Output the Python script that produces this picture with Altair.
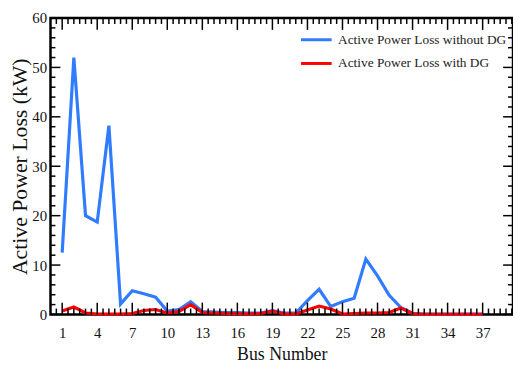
import altair as alt
import pandas as pd

# ---------------- data ----------------
bus_number = list(range(1, 38))
loss_without_dg = [12.5, 52.0, 20.0, 18.7, 38.2, 2.1, 4.8, 4.2, 3.5, 0.7,
                   1.0, 2.6, 0.6, 0.5, 0.4, 0.4, 0.3, 0.3, 0.8, 0.3,
                   0.3, 2.8, 5.1, 1.6, 2.6, 3.3, 11.2, 7.8, 3.9, 1.4,
                   0.2, 0.1, 0.1, 0.1, 0.1, 0.1, 0.1]
loss_with_dg = [0.7, 1.5, 0.3, 0.1, 0.1, 0.1, 0.2, 0.8, 1.0, 0.3,
                0.6, 2.0, 0.4, 0.3, 0.2, 0.2, 0.1, 0.2, 0.7, 0.1,
                0.1, 0.9, 1.7, 1.1, 0.1, 0.2, 0.3, 0.3, 0.4, 1.3,
                0.2, 0.05, 0.05, 0.05, 0.05, 0.05, 0.05]
series_names = ["Active Power Loss without DG", "Active Power Loss with DG"]
series_colors = ["#2f7cff", "#ff0000"]

x_major_ticks = list(range(1, 38, 3))
x_minor_ticks = [v / 2 for v in range(1, 80) if (v / 2) not in x_major_ticks]
y_major_ticks = list(range(0, 61, 10))
y_minor_ticks = [v for v in range(2, 60, 2) if v % 10 != 0]

# ---------------- layout ----------------
W, H = 468, 300
SERIF = "Liberation Serif"

rows = []
for name, vals in zip(series_names, [loss_without_dg, loss_with_dg]):
    for b, v in zip(bus_number, vals):
        rows.append({"bus": b, "loss": v, "series": name})
df = pd.DataFrame(rows)

x_scale = alt.Scale(domain=[0, 39.6], nice=False, zero=False)
y_scale = alt.Scale(domain=[0, 60], nice=False, zero=False)

x_axis = alt.Axis(values=x_major_ticks, title="Bus Number", ticks=False,
                  domain=False, grid=False, labelFont=SERIF,
                  labelFontSize=15, labelColor="#111", labelPadding=11,
                  titleFont=SERIF, titleFontSize=18, titleFontWeight="normal",
                  titleColor="#111", titlePadding=6, labelFlush=False)
y_axis = alt.Axis(values=y_major_ticks, title="Active Power Loss (kW)",
                  ticks=False, domain=False, grid=False, labelFont=SERIF,
                  labelFontSize=15, labelColor="#111", labelPadding=4,
                  titleFont=SERIF, titleFontSize=22, titleFontWeight="normal",
                  titleColor="#111", titlePadding=0, labelFlush=False)

lines = alt.Chart(df).mark_line(strokeWidth=3.2).encode(
    x=alt.X("bus:Q", scale=x_scale, axis=x_axis),
    y=alt.Y("loss:Q", scale=y_scale, axis=y_axis),
    color=alt.Color("series:N",
                    scale=alt.Scale(domain=series_names, range=series_colors),
                    sort=series_names,
                    legend=alt.Legend(title=None, orient="none", legendX=252,
                                      legendY=5, symbolType="stroke",
                                      symbolSize=961, symbolStrokeWidth=3,
                                      labelFont=SERIF, labelFontSize=13.5,
                                      labelColor="#222", labelOffset=5,
                                      labelLimit=0,
                                      rowPadding=-9, padding=0)),
    detail="series:N",
)


def x_ticks(values, length, top):
    d = pd.DataFrame({"v": values})
    if top:
        yy, yy2 = alt.value(0), alt.value(length)
    else:
        yy, yy2 = alt.value(H), alt.value(H - length)
    return alt.Chart(d).mark_rule(color="black", strokeWidth=1.5).encode(
        x=alt.X("v:Q", scale=x_scale, axis=x_axis), y=yy, y2=yy2)


def y_ticks(values, length, right):
    d = pd.DataFrame({"v": values})
    if right:
        xx, xx2 = alt.value(W), alt.value(W - length)
    else:
        xx, xx2 = alt.value(0), alt.value(length)
    return alt.Chart(d).mark_rule(color="black", strokeWidth=1.5).encode(
        y=alt.Y("v:Q", scale=y_scale, axis=y_axis), x=xx, x2=xx2)


tick_layers = [
    x_ticks(x_major_ticks, 12, False), x_ticks(x_minor_ticks, 6, False),
    x_ticks(x_major_ticks, 12, True), x_ticks(x_minor_ticks, 6, True),
    y_ticks(y_major_ticks, 10, False), y_ticks(y_minor_ticks, 5, False),
    y_ticks(y_major_ticks, 10, True), y_ticks(y_minor_ticks, 5, True),
]

chart = alt.layer(lines, *tick_layers).properties(
    width=W, height=H,
    autosize=alt.AutoSizeParams(type="none"),
    padding={"left": 43, "top": 8, "right": 0, "bottom": 50},
).configure_view(stroke="black", strokeWidth=2.5)

chart.save("out.html", embed_options={"renderer": "svg", "actions": False})
